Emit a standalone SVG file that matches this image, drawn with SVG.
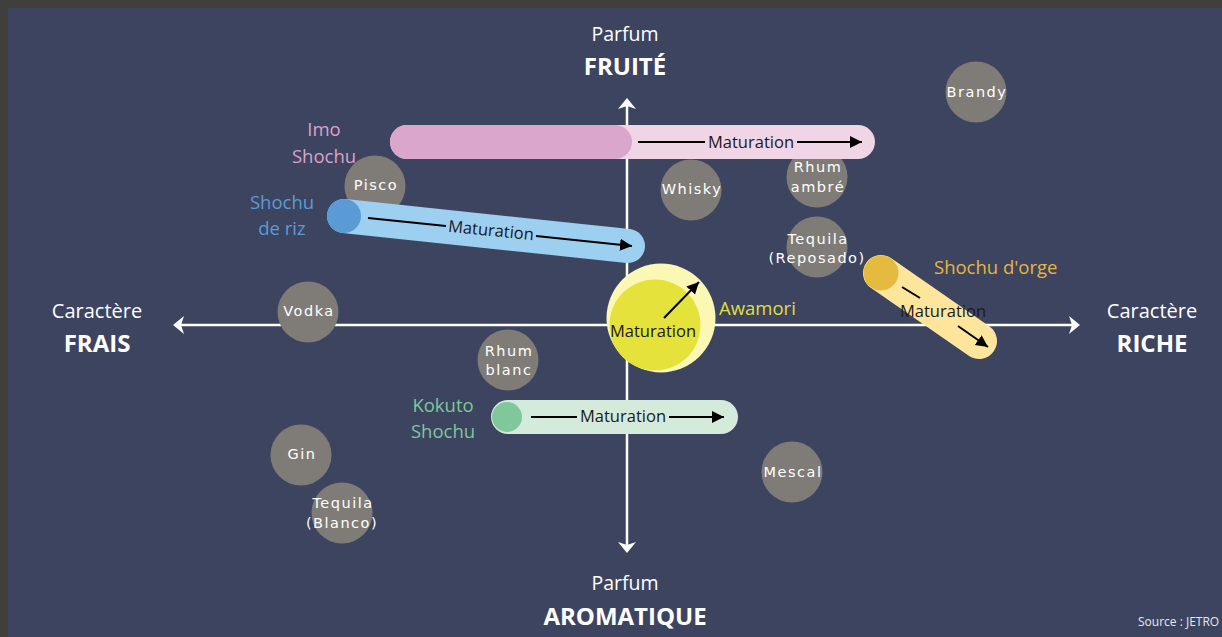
<svg xmlns="http://www.w3.org/2000/svg" width="1222" height="637" viewBox="0 0 1222 637">
<defs>
<marker id="ah" markerUnits="userSpaceOnUse" markerWidth="14" markerHeight="14" refX="12" refY="6" orient="auto"><path d="M0,0 L12,6 L0,12 z" fill="#000"/></marker>
<style>
.ax{stroke:#fff;stroke-width:2.5;fill:none}
.axh{fill:#fff}
.t{font-family:"Open Sans","Liberation Sans",sans-serif;fill:#fff;text-anchor:middle}
.b{font-weight:bold}
.g{fill:#7f7c77}
.gt{font-family:"DejaVu Sans","Liberation Sans",sans-serif;font-size:14.5px;letter-spacing:1.5px;fill:#fff;text-anchor:middle}
.m{font-family:"Open Sans","Liberation Sans",sans-serif;font-size:16.5px;fill:#1a1a1a;text-anchor:middle}
.ar{stroke:#000;stroke-width:2;fill:none}
.lab{font-family:"Open Sans","Liberation Sans",sans-serif;font-size:18.5px}
</style>
</defs>
<rect x="0" y="0" width="1222" height="637" fill="#413f3c"/>
<rect x="8" y="8" width="1214" height="629" fill="#3d4460"/>

<g id="axes">
<line class="ax" x1="627" y1="106" x2="627" y2="545"/>
<path class="axh" d="M627,98 L636,109 L627,106 L618,109 z"/>
<path class="axh" d="M627,553 L636,542 L627,545 L618,542 z"/>
<line class="ax" x1="181" y1="325" x2="1072" y2="325"/>
<path class="axh" d="M173,325 L184,316 L181,325 L184,334 z"/>
<path class="axh" d="M1080,325 L1069,316 L1072,325 L1069,334 z"/>
</g>

<g id="axis-labels">
<text class="t" x="625" y="41" font-size="19.5">Parfum</text>
<text class="t b" x="625" y="75" font-size="24">FRUITÉ</text>
<text class="t" x="625" y="590" font-size="19.5">Parfum</text>
<text class="t b" x="625" y="625" font-size="24">AROMATIQUE</text>
<text class="t" x="97" y="318" font-size="20">Caractère</text>
<text class="t b" x="97" y="352" font-size="24">FRAIS</text>
<text class="t" x="1152" y="318" font-size="20">Caractère</text>
<text class="t b" x="1152" y="352" font-size="24">RICHE</text>
</g>

<g id="node-brandy"><circle class="g" cx="976" cy="92" r="30.5"/><text class="gt" x="977" y="97">Brandy</text></g>
<g id="node-pisco"><circle class="g" cx="375" cy="186" r="30.5"/><text class="gt" x="376" y="190">Pisco</text></g>
<g id="node-whisky"><circle class="g" cx="691" cy="190" r="30.5"/><text class="gt" x="692" y="194">Whisky</text></g>
<g id="node-rhum-ambre"><circle class="g" cx="817" cy="177" r="30.5"/><text class="gt" x="818" y="172">Rhum</text><text class="gt" x="818" y="192">ambré</text></g>
<g id="node-tequila-reposado"><circle class="g" cx="817" cy="247" r="30.5"/><text class="gt" x="818" y="244">Tequila</text><text class="gt" x="817" y="263">(Reposado)</text></g>
<g id="node-vodka"><circle class="g" cx="308" cy="312" r="30.5"/><text class="gt" x="309" y="316">Vodka</text></g>
<g id="node-rhum-blanc"><circle class="g" cx="508" cy="360" r="30.5"/><text class="gt" x="509" y="356">Rhum</text><text class="gt" x="509" y="375">blanc</text></g>
<g id="node-gin"><circle class="g" cx="301" cy="455" r="30.5"/><text class="gt" x="302" y="459">Gin</text></g>
<g id="node-tequila-blanco"><circle class="g" cx="342" cy="513" r="30.5"/><text class="gt" x="343" y="508">Tequila</text><text class="gt" x="342" y="528">(Blanco)</text></g>
<g id="node-mescal"><circle class="g" cx="792" cy="472" r="30.5"/><text class="gt" x="793" y="477">Mescal</text></g>

<g id="node-imo-shochu">
<rect x="390" y="125" width="485" height="34" rx="17" fill="#f0d5e6"/>
<rect x="390" y="125" width="242" height="34" rx="17" fill="#dba6cb"/>
<text class="lab" x="324" y="136" fill="#d9a3c8" text-anchor="middle">Imo</text>
<text class="lab" x="324" y="163" fill="#d9a3c8" text-anchor="middle">Shochu</text>
</g>

<g id="node-shochu-riz">
<line x1="344" y1="216" x2="628" y2="246" stroke="#9dcff0" stroke-width="34" stroke-linecap="round"/>
<circle cx="344" cy="216" r="17" fill="#5b9bd5"/>
<text class="lab" x="282" y="209" fill="#5b9bd5" text-anchor="middle">Shochu</text>
<text class="lab" x="282" y="235" fill="#5b9bd5" text-anchor="middle">de riz</text>
</g>

<g id="node-awamori">
<circle cx="661" cy="318" r="54.5" fill="#fbf7b5"/>
<circle cx="655" cy="325" r="45.5" fill="#e6e23c"/>
<text class="lab" x="719" y="315" fill="#e1df3d">Awamori</text>
</g>

<g id="node-shochu-orge">
<line x1="881" y1="273" x2="979" y2="341" stroke="#fde69c" stroke-width="36" stroke-linecap="round"/>
<circle cx="881" cy="273" r="17.5" fill="#e5bb3f"/>
<text class="lab" x="934" y="274" fill="#e6b63c">Shochu d'orge</text>
</g>

<g id="node-kokuto-shochu">
<rect x="491" y="400" width="247" height="34" rx="17" fill="#d4eadb"/>
<circle cx="507" cy="417" r="15" fill="#80c89c"/>
<text class="lab" x="443" y="412" fill="#7ec79b" text-anchor="middle">Kokuto</text>
<text class="lab" x="443" y="438" fill="#7ec79b" text-anchor="middle">Shochu</text>
</g>

<g id="connectors">
<line class="ar" x1="638" y1="142" x2="705" y2="142"/>
<line class="ar" x1="797" y1="142" x2="862" y2="142" marker-end="url(#ah)"/>
<text class="m" x="751" y="148">Maturation</text>

<line class="ar" x1="368" y1="218" x2="446" y2="226"/>
<line class="ar" x1="536" y1="236" x2="632" y2="246" marker-end="url(#ah)"/>
<text class="m" x="491" y="236" transform="rotate(5.8 491 231)">Maturation</text>

<line class="ar" x1="664" y1="318" x2="699" y2="282" marker-end="url(#ah)"/>
<text class="m" x="653" y="337">Maturation</text>

<line class="ar" x1="902" y1="287" x2="920" y2="298"/>
<line class="ar" x1="958" y1="326" x2="988" y2="347" marker-end="url(#ah)"/>
<text class="m" x="943" y="317">Maturation</text>

<line class="ar" x1="531" y1="417" x2="577" y2="417"/>
<line class="ar" x1="669" y1="417" x2="724" y2="417" marker-end="url(#ah)"/>
<text class="m" x="623" y="422">Maturation</text>
</g>

<text x="1138" y="626" font-family="Open Sans, Liberation Sans, sans-serif" font-size="12" fill="#e8e8ee">Source : JETRO</text>
</svg>
